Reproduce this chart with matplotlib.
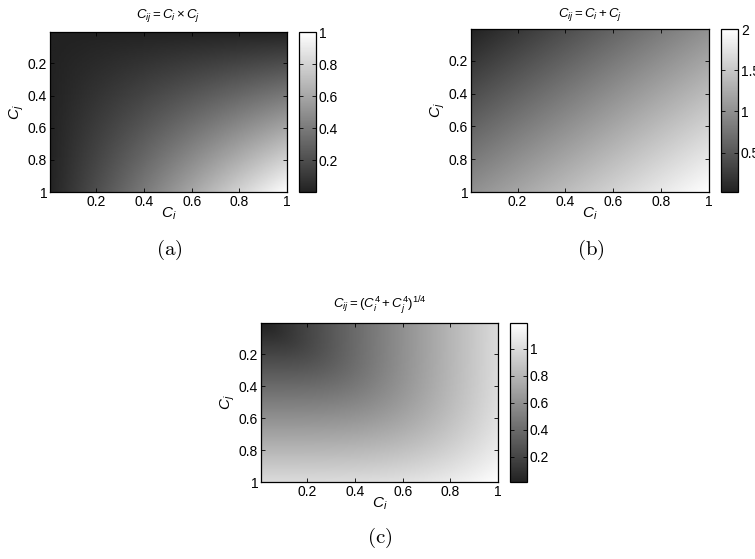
import numpy as np
import matplotlib

matplotlib.use("Agg")
import matplotlib.pyplot as plt
from matplotlib.colors import LinearSegmentedColormap

# sample points of C_i and C_j (100 steps, 0.01 .. 1)
c_i = np.arange(1, 101) / 100.0
c_j = np.arange(1, 101) / 100.0

axis_ticks = [0.2, 0.4, 0.6, 0.8, 1]
axis_ticklabels = ["0.2", "0.4", "0.6", "0.8", "1"]

titles = [
    r"$C_{ij} = C_i \times C_j$",
    r"$C_{ij} = C_i + C_j$",
    r"$C_{ij} = (C_i^4 + C_j^4)^{1/4}$",
]
panel_labels = ["(a)", "(b)", "(c)"]
cbar_ticks = [
    [0.2, 0.4, 0.6, 0.8, 1],
    [0.5, 1, 1.5, 2],
    [0.2, 0.4, 0.6, 0.8, 1],
]
cbar_ticklabels = [
    ["0.2", "0.4", "0.6", "0.8", "1"],
    ["0.5", "1", "1.5", "2"],
    ["0.2", "0.4", "0.6", "0.8", "1"],
]

CI, CJ = np.meshgrid(c_i, c_j)
fields = [CI * CJ, CI + CJ, (CI ** 4 + CJ ** 4) ** 0.25]

plt.rcParams["font.family"] = ["Liberation Sans", "DejaVu Sans"]
plt.rcParams["mathtext.fontset"] = "custom"
plt.rcParams["mathtext.rm"] = "Liberation Sans"
plt.rcParams["mathtext.it"] = "Liberation Sans:italic"

cmap = LinearSegmentedColormap.from_list("mgray", ["#222222", "#ffffff"])

fig = plt.figure(figsize=(7.55, 5.59), dpi=100)

# [left, bottom, width, height] for axes and colorbar, in figure fractions
ax_rects = [
    [0.0662, 0.6565, 0.314, 0.286],
    [0.6238, 0.6565, 0.315, 0.2916],
    [0.3457, 0.1377, 0.314, 0.2844],
]
cb_rects = [
    [0.396, 0.6565, 0.0225, 0.286],
    [0.955, 0.6565, 0.0225, 0.2916],
    [0.6755, 0.1377, 0.0225, 0.2844],
]
title_pads = [10, 9, 11]
label_pos = [(0.224, 0.553), (0.782, 0.553), (0.503, 0.038)]

for k in range(3):
    ax = fig.add_axes(ax_rects[k])
    im = ax.imshow(fields[k], cmap=cmap, aspect="auto",
                   extent=(0.005, 1.005, 1.005, 0.005), interpolation="bilinear")
    ax.set_xlim(0.005, 1.0)
    ax.set_ylim(1.0, 0.005)
    ax.set_xticks(axis_ticks)
    ax.set_xticklabels(axis_ticklabels)
    ax.set_yticks(axis_ticks)
    ax.set_yticklabels(axis_ticklabels)
    ax.tick_params(direction="in", length=3, width=0.6, labelsize=10,
                   top=True, right=True, pad=2)
    for s in ax.spines.values():
        s.set_linewidth(0.9)
    ax.set_title(titles[k], fontsize=9.5, pad=title_pads[k])
    ax.set_xlabel(r"$C_i$", fontsize=11, labelpad=-2)
    ax.set_ylabel(r"$C_j$", fontsize=11, labelpad=1)

    cax = fig.add_axes(cb_rects[k])
    cb = fig.colorbar(im, cax=cax)
    cb.set_ticks(cbar_ticks[k])
    cb.set_ticklabels(cbar_ticklabels[k])
    cax.tick_params(direction="in", length=3, width=0.6, labelsize=10, pad=2,
                    left=True, right=True)
    cb.outline.set_linewidth(0.9)

    fig.text(label_pos[k][0], label_pos[k][1], r"$\mathrm{" + panel_labels[k] + "}$",
             ha="center", va="center", fontsize=15, math_fontfamily="cm")

fig.savefig("out.png", dpi=100)
plt.close(fig)
